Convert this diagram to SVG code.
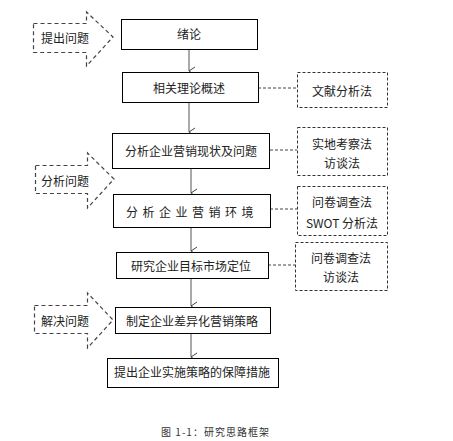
<svg xmlns="http://www.w3.org/2000/svg" width="453" height="441" viewBox="0 0 453 441">
<defs>
<marker id="arr" markerWidth="10" markerHeight="8" refX="5" refY="7" orient="auto-start-reverse" markerUnits="userSpaceOnUse" viewBox="0 0 10 8">
<path d="M1,1 L5,7 L9,1" fill="none" stroke="#444" stroke-width="1"/>
</marker>
<style>
.box{fill:#fff;stroke:#000;stroke-width:1}
.dbox{fill:#fff;stroke:#333;stroke-width:1;stroke-dasharray:3,2}
.darrow{fill:#fff;stroke:#444;stroke-width:1.2;stroke-dasharray:4,3}
.conn{stroke:#555;stroke-width:1;fill:none}
.dconn{stroke:#444;stroke-width:1;stroke-dasharray:3,2;fill:none}
text{font-family:"Noto Sans CJK SC","Liberation Sans",sans-serif;font-size:12px;fill:#222;text-anchor:middle;dominant-baseline:central}
.cap{font-size:10px;letter-spacing:1px;fill:#333}
</style>
</defs>
<rect width="453" height="441" fill="#fff"/>
<g id="connectors">
<line class="conn" x1="189" y1="49" x2="189" y2="71" marker-end="url(#arr)"/>
<line class="conn" x1="189" y1="102" x2="189" y2="132" marker-end="url(#arr)"/>
<line class="conn" x1="191" y1="168" x2="191" y2="193" marker-end="url(#arr)"/>
<line class="conn" x1="191" y1="227" x2="191" y2="251" marker-end="url(#arr)"/>
<line class="conn" x1="191" y1="278" x2="191" y2="306" marker-end="url(#arr)"/>
<line class="conn" x1="191" y1="333" x2="191" y2="357" marker-end="url(#arr)"/>
<line class="dconn" x1="258" y1="88" x2="297" y2="88"/>
<line class="dconn" x1="270" y1="150" x2="297" y2="150"/>
<line class="dconn" x1="270" y1="209" x2="297" y2="209"/>
<line class="dconn" x1="268" y1="265" x2="295" y2="265"/>
</g>
<g id="n1"><rect class="box" x="121.5" y="19.5" width="136" height="30"/><text x="189" y="33">绪论</text></g>
<g id="n2"><rect class="box" x="122.5" y="72.5" width="136" height="30"/><text x="189" y="87">相关理论概述</text></g>
<g id="n3"><rect class="box" x="112.5" y="133.5" width="157" height="35"/><text x="191" y="150">分析企业营销现状及问题</text></g>
<g id="n4"><rect class="box" x="113.5" y="194.5" width="157" height="33"/><text x="192" y="211" style="letter-spacing:4.5px">分析企业营销环境</text></g>
<g id="n5"><rect class="box" x="116.5" y="252.5" width="152" height="26"/><text x="191" y="265">研究企业目标市场定位</text></g>
<g id="n6"><rect class="box" x="115.5" y="307.5" width="155" height="26"/><text x="192" y="320.5">制定企业差异化营销策略</text></g>
<g id="n7"><rect class="box" x="107.5" y="358.5" width="171" height="29"/><text x="192" y="371.5">提出企业实施策略的保障措施</text></g>
<g id="m1"><rect class="dbox" x="297.5" y="72.5" width="90" height="35"/><text x="342" y="90">文献分析法</text></g>
<g id="m2"><rect class="dbox" x="297.5" y="127.5" width="90" height="48"/><text x="342" y="143">实地考察法</text><text x="342" y="162">访谈法</text></g>
<g id="m3"><rect class="dbox" x="297.5" y="186.5" width="90" height="49"/><text x="342" y="201">问卷调查法</text><text x="342" y="222">SWOT 分析法</text></g>
<g id="m4"><rect class="dbox" x="295.5" y="242.5" width="92" height="48"/><text x="341" y="257">问卷调查法</text><text x="341" y="276">访谈法</text></g>
<g id="s1"><polygon class="darrow" points="33.5,23.5 86.5,23.5 86.5,12 113,37 86.5,66 86.5,52.5 33.5,52.5"/><text x="65" y="37">提出问题</text></g>
<g id="s2"><polygon class="darrow" points="35.5,165.5 87.5,165.5 87.5,153 114,179 87.5,208 87.5,193.5 35.5,193.5"/><text x="65" y="180">分析问题</text></g>
<g id="s3"><polygon class="darrow" points="34.5,305.5 87.5,305.5 87.5,293 113,320 87.5,348 87.5,333.5 34.5,333.5"/><text x="65" y="320">解决问题</text></g>
<text class="cap" x="215.5" y="431">图 1-1：研究思路框架</text>
</svg>
